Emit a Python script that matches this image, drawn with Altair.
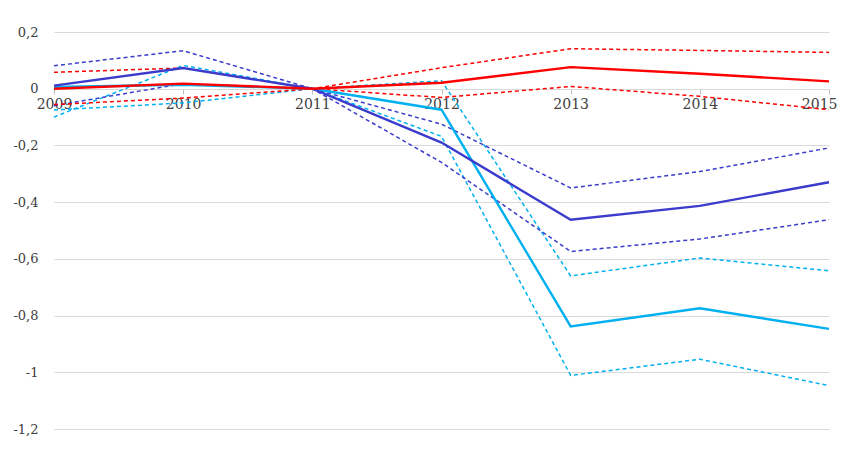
import altair as alt
import pandas as pd

years = [2009, 2010, 2011, 2012, 2013, 2014, 2015]

red_mid = [0.0, 0.018, 0.0, 0.021, 0.076, 0.053, 0.026]
red_hi = [0.058, 0.073, 0.0, 0.074, 0.141, 0.135, 0.128]
red_lo = [-0.056, -0.033, 0.0, -0.031, 0.008, -0.027, -0.074]

blue_mid = [0.011, 0.073, 0.0, -0.19, -0.462, -0.413, -0.330]
blue_hi = [0.081, 0.134, 0.0, -0.125, -0.350, -0.292, -0.209]
blue_lo = [-0.060, 0.018, 0.0, -0.26, -0.574, -0.530, -0.462]

cyan_mid = [0.006, 0.014, 0.0, -0.074, -0.838, -0.774, -0.847]
cyan_a = [-0.100, 0.082, 0.0, 0.028, -0.660, -0.597, -0.642]
cyan_b = [-0.075, -0.050, 0.0, -0.168, -1.011, -0.954, -1.047]

RED = "#FF0000"
BLUE = "#3B3BCC"
CYAN = "#00B0F0"

series = [
    ("cyan_a", cyan_a, CYAN, True),
    ("cyan_b", cyan_b, CYAN, True),
    ("blue_hi", blue_hi, BLUE, True),
    ("blue_lo", blue_lo, BLUE, True),
    ("red_hi", red_hi, RED, True),
    ("red_lo", red_lo, RED, True),
    ("cyan_mid", cyan_mid, CYAN, False),
    ("blue_mid", blue_mid, BLUE, False),
    ("red_mid", red_mid, RED, False),
]

FONT = "DejaVu Serif"

xscale = alt.Scale(domain=[2009, 2015], nice=False, zero=False)
yscale = alt.Scale(domain=[-1.2, 0.2], nice=False, zero=False)

layers = []
first = True
for name, vals, col, dashed in series:
    df = pd.DataFrame({"year": years, "value": vals})
    if dashed:
        mark = alt.Chart(df).mark_line(color=col, strokeWidth=1.5, strokeDash=[4, 3])
    else:
        mark = alt.Chart(df).mark_line(color=col, strokeWidth=2.4)
    if first:
        x = alt.X("year:Q", scale=xscale, title=None,
                  axis=alt.Axis(values=years, format="d", orient="bottom",
                                offset=-340, domainColor="#d9d9d9",
                                tickColor="#bfbfbf", tickSize=5,
                                labelPadding=3, labelFont=FONT, labelFontSize=14,
                                labelColor="#404040", grid=False,
                                labelOverlap=False, labelBound=False,
                                labelFlush=False,
                                labelAlign={"condition": {"test": "datum.value == 2015", "value": "right"},
                                            "value": "center"},
                                labelOffset={"condition": {"test": "datum.value == 2015", "value": 8},
                                             "value": 0}))
        y = alt.Y("value:Q", scale=yscale, title=None,
                  axis=alt.Axis(values=[0.2, 0, -0.2, -0.4, -0.6, -0.8, -1, -1.2],
                                labelExpr="replace(toString(round(datum.value*10)/10), '.', ',')",
                                domain=False, ticks=False, labelPadding=16,
                                labelFont=FONT, labelFontSize=13,
                                labelColor="#404040", gridColor="#d9d9d9",
                                gridWidth=1))
        first = False
    else:
        x = alt.X("year:Q", scale=xscale)
        y = alt.Y("value:Q", scale=yscale)
    layers.append(mark.encode(x=x, y=y))

chart = alt.layer(*layers).properties(
    width=775, height=397,
    autosize=alt.AutoSizeParams(type="none"),
    padding={"left": 46, "top": 24, "right": 8, "bottom": 8},
).configure_view(stroke=None)

chart.save("out.html", embed_options={"renderer": "svg", "actions": False})
